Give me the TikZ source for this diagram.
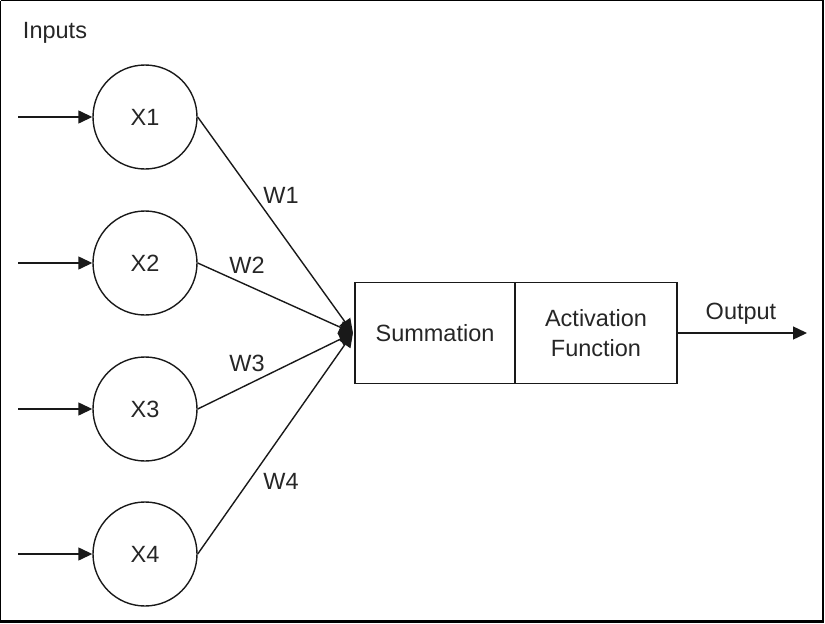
\documentclass[tikz,border=0pt]{standalone}
\usepackage{fontspec}
\setmainfont{Liberation Sans}
\usetikzlibrary{arrows.meta}
\begin{document}
\begin{tikzpicture}[x=1pt,y=-1pt,
  every node/.style={font=\fontsize{23.5}{30}\selectfont, text=black!85},
  neuron/.style={circle, draw=black!90, line width=1.4pt, minimum size=104pt, inner sep=0pt},
  stage/.style={rectangle, draw=black!90, line width=1.4pt, minimum height=101pt, inner sep=0pt, align=center},
  conn/.style={line width=1.4pt, draw=black!90, -{Triangle[length=14pt,width=13pt]}},
  wlabel/.style={inner sep=0pt, yshift=-2pt}
]
\useasboundingbox (0,0) rectangle (825,624);
% frame
\draw[line width=1pt] (0.5,0.5) -- (823,0.5);
\draw[line width=1pt] (0.5,0.5) -- (0.5,621.5);
\draw[line width=2.5pt] (823,0) -- (823,621.5) -- (0,621.5);

\node[wlabel] (inputs) at (55,31) {Inputs};

\node[neuron] (x1) at (145,117) {X1};
\node[neuron] (x2) at (145,263) {X2};
\node[neuron] (x3) at (145,409) {X3};
\node[neuron] (x4) at (145,554) {X4};

\foreach \i/\y in {1/117,2/263,3/409,4/554}{
  \coordinate (in\i) at (18,\y);
  \draw[conn] (in\i) -- (x\i.west);
}

\node[stage, minimum width=160pt] (sum) at (435,333) {\raisebox{-2pt}{Summation}};
\node[stage, minimum width=162pt] (act) at (596,333) {Activation\\Function};

\coordinate (sumin) at (353,333);
\foreach \i in {1,2,3,4}{
  \draw[conn] (x\i.east) -- (sumin);
}

\node[wlabel] (w1) at (281,193) {W1};
\node[wlabel] (w2) at (247,263) {W2};
\node[wlabel] (w3) at (247,361) {W3};
\node[wlabel] (w4) at (281,479) {W4};

\coordinate (out) at (807,333);
\draw[conn] (act.east |- out) -- (out);
\node[wlabel] (outlabel) at (741,312) {Output};
\end{tikzpicture}
\end{document}
